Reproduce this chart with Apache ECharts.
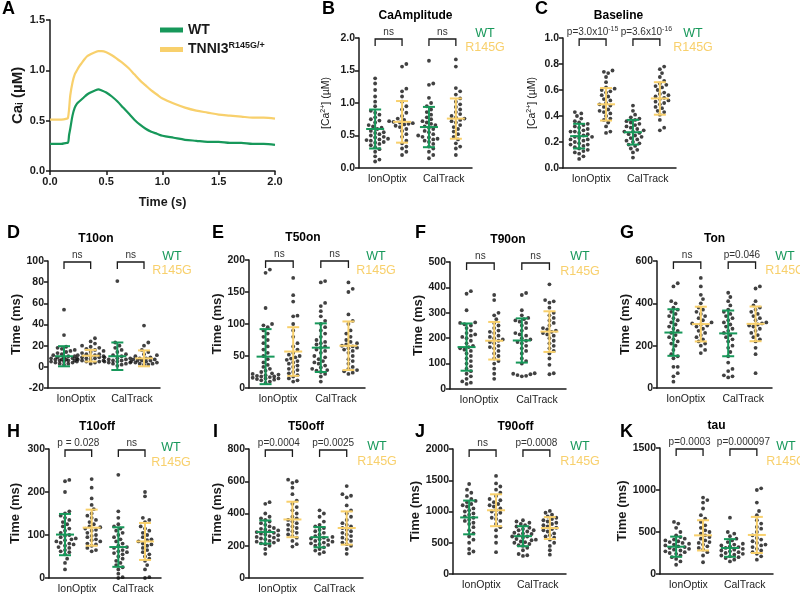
<!DOCTYPE html>
<html><head><meta charset="utf-8">
<script src="https://cdn.jsdelivr.net/npm/echarts@6/dist/echarts.min.js"></script>
<style>html,body{margin:0;padding:0;background:#fff}#c{width:800px;height:596px}</style>
</head><body><div id="c"></div>
<script>
// ================= DATA =================
// Panel A: average Ca transient
const traceTime  = [0,0.05,0.1,0.15,0.16,0.17,0.18,0.2,0.22,0.24,0.26,0.28,0.3,0.33,0.36,0.4,0.43,0.46,0.5,0.55,0.6,0.65,0.7,0.75,0.8,0.85,0.9,0.95,1.0,1.1,1.2,1.3,1.4,1.5,1.6,1.7,1.8,1.9,2.0];
const traceWT    = [0.27,0.27,0.27,0.28,0.28,0.36,0.42,0.55,0.63,0.67,0.69,0.71,0.73,0.76,0.78,0.80,0.81,0.80,0.78,0.74,0.69,0.63,0.57,0.51,0.46,0.42,0.39,0.37,0.35,0.33,0.31,0.30,0.29,0.29,0.28,0.28,0.27,0.27,0.26];
const traceR145G = [0.51,0.51,0.51,0.52,0.53,0.62,0.75,0.88,0.96,1.00,1.04,1.07,1.10,1.14,1.16,1.18,1.19,1.19,1.18,1.15,1.11,1.07,1.02,0.96,0.90,0.85,0.80,0.76,0.72,0.67,0.63,0.60,0.58,0.56,0.55,0.54,0.53,0.53,0.52];

const methods = ['IonOptix','CalTrack'];
const genotypes = ['WT','R145G'];

// B CaAmplitude (µM)
const ampWT_Ion  = [0.10,0.13,0.18,0.25,0.29,0.32,0.35,0.37,0.39,0.40,0.42,0.43,0.44,0.45,0.47,0.48,0.50,0.52,0.54,0.55,0.57,0.60,0.62,0.64,0.66,0.70,0.73,0.75,0.78,0.82,0.85,0.88,0.95,1.02,1.10,1.20,1.30,1.38];
const ampR_Ion   = [0.20,0.25,0.30,0.33,0.38,0.42,0.48,0.52,0.57,0.60,0.63,0.65,0.67,0.68,0.69,0.70,0.71,0.72,0.74,0.76,0.80,0.85,0.90,0.95,1.02,1.10,1.18,1.22,1.56,1.60];
const ampWT_Cal  = [0.15,0.20,0.25,0.30,0.33,0.37,0.40,0.42,0.44,0.45,0.47,0.48,0.50,0.52,0.55,0.57,0.60,0.62,0.64,0.66,0.68,0.70,0.72,0.75,0.78,0.82,0.86,0.90,0.95,1.00,1.08,1.28,1.30,1.65];
const ampR_Cal   = [0.20,0.30,0.33,0.38,0.44,0.48,0.52,0.56,0.60,0.63,0.66,0.70,0.72,0.74,0.76,0.78,0.80,0.83,0.86,0.90,0.94,0.98,1.02,1.07,1.13,1.18,1.23,1.56,1.67];
const ampMean = [0.60,0.71,0.63,0.76];
const ampSD   = [0.30,0.32,0.31,0.31];
const ampSig  = ['ns','ns'];

// C Baseline (µM)
const baseWT_Ion = [0.07,0.09,0.11,0.12,0.13,0.14,0.15,0.16,0.17,0.18,0.18,0.19,0.20,0.21,0.22,0.22,0.23,0.24,0.24,0.25,0.26,0.27,0.28,0.28,0.29,0.30,0.31,0.32,0.33,0.34,0.35,0.36,0.38,0.40,0.42,0.43];
const baseR_Ion  = [0.27,0.28,0.32,0.35,0.37,0.38,0.40,0.42,0.43,0.44,0.45,0.47,0.48,0.49,0.50,0.52,0.53,0.55,0.56,0.58,0.59,0.60,0.61,0.62,0.66,0.70,0.73,0.74,0.75];
const baseWT_Cal = [0.08,0.12,0.14,0.15,0.17,0.18,0.19,0.20,0.21,0.22,0.23,0.24,0.25,0.26,0.27,0.28,0.28,0.29,0.30,0.31,0.32,0.33,0.34,0.35,0.36,0.37,0.38,0.39,0.41,0.44,0.48];
const baseR_Cal  = [0.29,0.31,0.37,0.41,0.43,0.44,0.46,0.47,0.49,0.50,0.51,0.52,0.53,0.54,0.55,0.56,0.57,0.58,0.60,0.62,0.63,0.64,0.65,0.67,0.70,0.73,0.76,0.78];
const baseMean = [0.245,0.49,0.275,0.535];
const baseSD   = [0.095,0.125,0.095,0.125];
const baseSig  = ['p=3.0x10{sup|-15}','p=3.6x10{sup|-16}'];

// D T10on (ms)
const t10onWT_Ion = [2,3,3,4,4,5,5,5,6,6,6,7,7,7,8,8,8,9,9,10,10,11,12,13,14,15,16,17,18,19,30,54];
const t10onR_Ion  = [3,4,5,5,6,6,7,7,8,8,9,9,10,10,11,11,12,12,13,14,15,16,17,18,19,20,22,24,27];
const t10onWT_Cal = [1,2,3,3,4,4,5,5,6,6,7,7,8,8,9,10,11,12,14,16,18,20,23,81];
const t10onR_Cal  = [2,2,3,3,4,4,5,5,6,6,6,7,7,8,8,9,10,11,12,14,16,20,23,39];
const t10onMean = [10,10.5,10,8];
const t10onSD   = [9.5,5.5,13,7.5];
const t10onSig  = ['ns','ns'];

// E T50on (ms)
const t50onWT_Ion = [8,10,12,13,14,15,15,16,17,18,18,19,20,21,22,23,25,27,30,33,36,40,45,50,55,60,65,70,75,80,85,90,95,98,100,125,180,185];
const t50onR_Ion  = [10,12,15,18,20,23,25,28,30,33,35,38,40,42,44,46,48,50,52,55,60,65,70,80,90,100,112,113,135,145,172];
const t50onWT_Cal = [10,18,22,25,27,28,30,32,35,38,40,42,45,48,50,55,58,60,63,65,68,70,72,75,80,85,90,95,100,105,112,120,128,133,165,167];
const t50onR_Cal  = [22,24,26,28,30,33,38,42,45,50,55,58,60,62,63,65,66,68,70,72,75,80,85,90,100,105,115,150,155,165];
const t50onMean = [49,57,63,66];
const t50onSD   = [43,38,38,38];
const t50onSig  = ['ns','ns'];

// F T90on (ms)
const t90onWT_Ion = [20,25,30,40,50,60,70,80,90,100,110,120,130,140,150,155,160,165,170,180,190,200,205,210,215,220,230,240,250,255,260,262,310,375,385];
const t90onR_Ion  = [40,60,80,100,110,120,130,140,150,160,165,170,180,185,190,195,200,205,210,220,225,230,240,250,260,275,290,300,350,370];
const t90onWT_Cal = [50,52,55,58,60,62,100,110,120,140,150,160,170,180,185,190,195,200,210,215,220,230,240,250,260,265,270,275,280,290,310,370,378];
const t90onR_Cal  = [58,62,95,120,140,150,160,170,180,190,200,210,215,220,225,230,235,240,250,260,270,280,290,300,320,340,345,350,412];
const t90onMean = [165,190,191,226];
const t90onSD   = [93,74,87,80];
const t90onSig  = ['ns','ns'];

// G Ton (ms)
const tonWT_Ion = [30,55,70,100,100,140,150,160,180,200,210,220,230,240,250,260,270,280,290,300,310,320,330,340,350,360,370,380,400,410,480,495];
const tonR_Ion  = [165,180,200,210,220,230,240,250,260,270,280,290,295,300,305,310,320,330,340,350,360,370,380,400,420,440,480,520];
const tonWT_Cal = [50,55,60,80,90,120,150,170,190,200,220,230,240,250,260,270,280,290,300,310,320,330,340,350,360,370,390,410,430,450];
const tonR_Cal  = [70,160,190,220,230,240,250,260,270,280,290,295,300,305,310,320,330,340,350,360,370,380,390,410,470,480];
const tonMean = [262,302,258,303];
const tonSD   = [110,82,108,82];
const tonSig  = ['ns','p=0.046'];

// H T10off (ms)
const t10offWT_Ion = [20,35,45,55,60,62,65,70,72,75,78,80,82,85,88,90,92,95,98,100,105,110,115,120,125,130,135,140,145,150,155,200,225,228];
const t10offR_Ion  = [62,65,70,75,78,80,85,88,90,95,98,100,105,110,112,115,118,120,125,130,135,140,145,150,160,170,185,210,230];
const t10offWT_Cal = [0,2,10,20,25,30,35,40,45,50,55,58,60,62,65,70,72,75,80,85,90,95,100,105,110,115,120,125,140,155,240];
const t10offR_Cal  = [0,2,20,30,40,45,50,55,60,65,70,75,78,80,85,88,90,95,100,105,110,115,120,130,135,140,190,200];
const t10offMean = [101,117,72,85];
const t10offSD   = [48,42,46,43];
const t10offSig  = ['p = 0.028','ns'];

// I T50off (ms)
const t50offWT_Ion = [150,180,200,210,215,220,225,230,235,240,245,250,255,260,265,270,275,280,285,290,295,300,305,310,320,330,340,350,360,370,380,400,460,470];
const t50offR_Ion  = [195,210,230,250,260,270,280,290,300,310,320,330,340,350,360,370,380,400,420,440,460,480,520,560,590,600,610];
const t50offWT_Cal = [150,160,170,180,190,200,205,210,215,220,225,230,235,240,245,250,255,260,270,280,290,300,310,320,330,350,380,400,420];
const t50offR_Cal  = [150,180,200,210,220,230,240,250,260,270,280,290,300,310,320,330,340,360,380,400,420,450,500,510,520,570];
const t50offMean = [285,363,253,310];
const t50offSD   = [72,110,63,103];
const t50offSig  = ['p=0.0004','p=0.0025'];

// J T90off (ms)
const t90offWT_Ion = [330,360,400,500,550,600,650,700,750,800,820,850,870,900,920,950,970,1000,1020,1050,1080,1100,1120,1150,1170,1200,1250,1300,1350,1440];
const t90offR_Ion  = [350,500,600,700,750,800,850,880,900,950,980,1000,1020,1050,1080,1100,1120,1150,1180,1200,1250,1300,1350,1400,1450,1570];
const t90offWT_Cal = [290,300,320,380,420,450,460,480,500,510,520,540,550,560,580,600,600,620,640,650,660,680,700,700,720,740,760,780,800,820,840,860];
const t90offR_Cal  = [310,380,450,500,550,580,600,620,650,680,700,720,740,760,780,800,820,840,860,880,900,920,950,980,1010];
const t90offMean = [905,1020,605,735];
const t90offSD   = [270,255,160,175];
const t90offSig  = ['ns','p=0.0008'];

// K tau (ms)
const tauWT_Ion = [110,150,180,200,220,240,250,260,270,280,290,300,310,320,330,340,350,360,370,380,390,400,410,420,440,460,500,550,600,620];
const tauR_Ion  = [140,220,260,290,310,330,350,370,380,400,420,440,460,480,500,520,550,580,620,660,700,780,850,880,910];
const tauWT_Cal = [150,170,190,200,210,220,230,240,250,260,270,280,290,300,310,320,330,340,350,360,380,400,420,450,480,500,670];
const tauR_Cal  = [170,210,240,260,280,300,320,340,350,370,390,410,430,460,500,540,560,600,640,700,750,850,1000,1020];
const tauMean = [325,460,310,465];
const tauSD   = [120,180,105,215];
const tauSig  = ['p=0.0003','p=0.000097'];

// ================= LAYOUT / STYLE =================
const GREEN = '#17985a', YELLOW = '#f8d06c', INK = '#1a1a1a';
const FONT = '"Liberation Sans", Arial, Helvetica, sans-serif';
const XMIN = -0.6, XMAX = 3.6;

const panels = [
  {letter:'B', L:[322,9],  title:'CaAmplitude', tx:0, groups:[ampWT_Ion,ampR_Ion,ampWT_Cal,ampR_Cal], mean:ampMean, sd:ampSD, sig:ampSig,
   y:[0,2,0.5], dec:1, yName:'[Ca{sup|2+}] (µM)', ca:true, nameGap:26, grid:{left:359,top:38,width:113,height:130}, leg:[485,34,48]},
  {letter:'C', L:[535,9],  title:'Baseline', tx:-1, groups:[baseWT_Ion,baseR_Ion,baseWT_Cal,baseR_Cal], mean:baseMean, sd:baseSD, sig:baseSig,
   y:[0,1,0.2], dec:1, yName:'[Ca{sup|2+}] (µM)', ca:true, nameGap:24, grid:{left:563,top:38,width:113,height:130}, leg:[693,34,48]},
  {letter:'D', L:[7,233],  title:'T10on', tx:-8, groups:[t10onWT_Ion,t10onR_Ion,t10onWT_Cal,t10onR_Cal], mean:t10onMean, sd:t10onSD, sig:t10onSig,
   y:[-20,100,20], dec:0, yName:'Time (ms)', nameGap:25, grid:{left:48,top:261,width:112,height:127}, leg:[172,257,271]},
  {letter:'E', L:[212,233], title:'T50on', tx:-4, groups:[t50onWT_Ion,t50onR_Ion,t50onWT_Cal,t50onR_Cal], mean:t50onMean, sd:t50onSD, sig:t50onSig,
   y:[0,200,50], dec:0, yName:'Time (ms)', nameGap:25, grid:{left:249,top:260,width:116,height:128}, leg:[376,257,271]},
  {letter:'F', L:[415,233], title:'T90on', tx:0, groups:[t90onWT_Ion,t90onR_Ion,t90onWT_Cal,t90onR_Cal], mean:t90onMean, sd:t90onSD, sig:t90onSig,
   y:[0,500,100], dec:0, yName:'Time (ms)', nameGap:22, grid:{left:450,top:262,width:116,height:127}, leg:[580,257,272]},
  {letter:'G', L:[620,233], title:'Ton', tx:0, groups:[tonWT_Ion,tonR_Ion,tonWT_Cal,tonR_Cal], mean:tonMean, sd:tonSD, sig:tonSig,
   y:[0,600,200], dec:0, yName:'Time (ms)', nameGap:24, grid:{left:657,top:261,width:115,height:127}, leg:[785,257,271]},
  {letter:'H', L:[7,432],  title:'T10off', tx:-8, groups:[t10offWT_Ion,t10offR_Ion,t10offWT_Cal,t10offR_Cal], mean:t10offMean, sd:t10offSD, sig:t10offSig,
   y:[0,300,100], dec:0, yName:'Time (ms)', nameGap:27, grid:{left:49,top:449,width:112,height:129}, leg:[171,448,463]},
  {letter:'I', L:[213,432], title:'T50off', tx:0, groups:[t50offWT_Ion,t50offR_Ion,t50offWT_Cal,t50offR_Cal], mean:t50offMean, sd:t50offSD, sig:t50offSig,
   y:[0,800,200], dec:0, yName:'Time (ms)', nameGap:25, grid:{left:249,top:449,width:114,height:129}, leg:[377,447,462]},
  {letter:'J', L:[415,432], title:'T90off', tx:6, groups:[t90offWT_Ion,t90offR_Ion,t90offWT_Cal,t90offR_Cal], mean:t90offMean, sd:t90offSD, sig:t90offSig,
   y:[0,2000,500], dec:0, yName:'Time (ms)', nameGap:25, grid:{left:453,top:449,width:113,height:125}, leg:[580,447,462]},
  {letter:'K', L:[620,432], title:'tau', tx:0, groups:[tauWT_Ion,tauR_Ion,tauWT_Cal,tauR_Cal], mean:tauMean, sd:tauSD, sig:tauSig,
   y:[0,1500,500], dec:0, yName:'Time (ms)', nameGap:29, grid:{left:660,top:448,width:113,height:126}, leg:[786,447,462]}
];

// deterministic beeswarm layout (pixel-space packing around a column centre, max half-width capped)
function swarm(vals, centre, yPerPx, xPerPx) {
  const d = 4.3, maxOff = 13;
  const sorted = vals.slice().sort((a, b) => a - b);
  const placed = [], out = [];
  const cands = [0];
  for (let k = 1; k * d * 0.5 <= maxOff; k++) { cands.push(k * d * 0.5, -k * d * 0.5); }
  for (const v of sorted) {
    const py = v / yPerPx;
    let best = null, bestDist = -1;
    for (const off of cands) {
      let minD = Infinity;
      for (const p of placed) {
        const dx = p[0] - off, dy = p[1] - py;
        minD = Math.min(minD, Math.sqrt(dx * dx + dy * dy));
      }
      if (minD >= d) { best = off; break; }
      if (minD > bestDist) { bestDist = minD; best = off; }
    }
    placed.push([best, py]);
    out.push([centre + best * xPerPx, v]);
  }
  return out;
}

const axLine = {show:true, onZero:false, lineStyle:{color:INK, width:1.5}};
const richSup = {
  sup:{fontSize:8, fontFamily:FONT, fontWeight:'bold', padding:[0,0,7,0], color:INK},
  sub:{fontSize:10, fontFamily:FONT, fontWeight:'bold', padding:[0,0,-6,0], color:INK}
};

const option = {
  animation:false,
  backgroundColor:'#fff',
  textStyle:{fontFamily:FONT},
  grid:[], xAxis:[], yAxis:[], series:[], graphic:[],
  legend:{
    data:['WT','TNNI3'], orient:'vertical', left:155, top:18, itemWidth:23, itemHeight:5, itemGap:4,
    icon:'rect', selectedMode:false,
    textStyle:{fontSize:14, fontWeight:'bold', color:INK, fontFamily:FONT,
      rich:{sup:{fontSize:9, fontWeight:'bold', fontFamily:FONT, color:INK, padding:[0,0,8,0]}}},
    formatter: n => n === 'WT' ? 'WT' : 'TNNI3{sup|R145G/+}'
  }
};

// ---- Panel A ----
option.grid.push({left:50, top:20, width:225, height:151});
option.xAxis.push({type:'value', gridIndex:0, min:0, max:2, interval:0.5,
  axisLine:axLine, axisTick:{show:true, length:4, lineStyle:{color:INK,width:1.5}},
  axisLabel:{fontSize:11, fontWeight:'bold', color:INK, margin:5, formatter:v=>v.toFixed(1)},
  splitLine:{show:false}, name:'Time (s)', nameLocation:'middle', nameGap:25,
  nameTextStyle:{fontSize:12.5, fontWeight:'bold', color:INK}});
option.yAxis.push({type:'value', gridIndex:0, min:0, max:1.5, interval:0.5,
  axisLine:axLine, axisTick:{show:true, length:4, lineStyle:{color:INK,width:1.5}},
  axisLabel:{fontSize:11, fontWeight:'bold', color:INK, margin:5, formatter:v=>v.toFixed(1)},
  splitLine:{show:false}, name:'Ca{sub|i} (µM)', nameLocation:'middle', nameGap:25,
  nameTextStyle:{fontSize:15, fontWeight:'bold', color:INK, rich:richSup}});
option.series.push({type:'line', name:'WT', xAxisIndex:0, yAxisIndex:0, showSymbol:false, smooth:0.3,
  data:traceTime.map((t,i)=>[t,traceWT[i]]), lineStyle:{color:GREEN, width:2.2}, itemStyle:{color:GREEN}});
option.series.push({type:'line', name:'TNNI3', xAxisIndex:0, yAxisIndex:0, showSymbol:false, smooth:0.3,
  data:traceTime.map((t,i)=>[t,traceR145G[i]]), lineStyle:{color:YELLOW, width:2.2}, itemStyle:{color:YELLOW}});
option.graphic.push({type:'text', x:2, y:0, style:{text:'A', fontSize:18, fontWeight:'bold', fontFamily:FONT, fill:'#000'}});

// ---- Panels B..K ----
panels.forEach((p, k) => {
  const gi = k + 1, xv = 1 + 2*k, yi = k + 1;
  const [ymin, ymax, yint] = p.y;
  option.grid.push(p.grid);
  option.xAxis.push({type:'value', gridIndex:gi, min:XMIN, max:XMAX, axisLine:axLine,
    axisTick:{show:false}, axisLabel:{show:false}, splitLine:{show:false}});
  option.xAxis.push({type:'category', gridIndex:gi, data:methods, position:'bottom',
    axisLine:{show:false, onZero:false}, axisTick:{show:false}, splitLine:{show:false},
    axisLabel:{fontSize:10.5, color:'#222', margin:6}});
  option.yAxis.push({type:'value', gridIndex:gi, min:ymin, max:ymax, interval:yint,
    axisLine:axLine, axisTick:{show:true, length:4, lineStyle:{color:INK,width:1.5}},
    axisLabel:{fontSize:10.5, fontWeight:'bold', color:INK, margin:4, formatter:v=>v.toFixed(p.dec)},
    splitLine:{show:false}, name:p.yName, nameLocation:'middle', nameGap:p.nameGap,
    nameTextStyle: p.ca ? {fontSize:10.5, color:INK, rich:{sup:{fontSize:7, color:INK, padding:[0,0,6,0]}}}
                        : {fontSize:13, fontWeight:'bold', color:INK}});
  const yPerPx = (ymax - ymin) / p.grid.height;
  const xPerPx = (XMAX - XMIN) / p.grid.width;
  p.groups.forEach((vals, g) => {
    option.series.push({type:'scatter', xAxisIndex:xv, yAxisIndex:yi, silent:true, z:2,
      symbol:'circle', symbolSize:3.8, itemStyle:{color:'#111'},
      data:swarm(vals, g, yPerPx, xPerPx)});
  });
  // mean ± SD
  option.series.push({type:'custom', xAxisIndex:xv, yAxisIndex:yi, silent:true, z:4,
    data:p.mean.map((m,g)=>[g, m, p.sd[g]]),
    renderItem:(params, api) => {
      const x = api.value(0), m = api.value(1), s = api.value(2);
      const c = api.coord([x, m]), t = api.coord([x, m + s]), b = api.coord([x, m - s]);
      const col = x % 2 === 0 ? GREEN : YELLOW;
      const st = {stroke:col, lineWidth:2, fill:null};
      return {type:'group', children:[
        {type:'line', shape:{x1:c[0], y1:t[1], x2:c[0], y2:b[1]}, style:st},
        {type:'line', shape:{x1:c[0]-6, y1:t[1], x2:c[0]+6, y2:t[1]}, style:st},
        {type:'line', shape:{x1:c[0]-6, y1:b[1], x2:c[0]+6, y2:b[1]}, style:st},
        {type:'line', shape:{x1:c[0]-9, y1:c[1], x2:c[0]+9, y2:c[1]}, style:st}
      ]};
    }});
  // significance brackets
  option.series.push({type:'custom', xAxisIndex:xv, yAxisIndex:yi, silent:true, z:4, clip:false,
    data:[[0,1,0],[2,3,1]],
    renderItem:(params, api) => {
      const a = api.coord([api.value(0), ymax]), b = api.coord([api.value(1), ymax]);
      const y0 = a[1] + 1;
      return {type:'group', children:[
        {type:'polyline', shape:{points:[[a[0],y0+7],[a[0],y0],[b[0],y0],[b[0],y0+7]]},
         style:{stroke:INK, lineWidth:1.3, fill:null}},
        {type:'text', style:{text:p.sig[api.value(2)], x:(a[0]+b[0])/2, y:y0-7, align:'center', verticalAlign:'middle',
          textAlign:'center', textVerticalAlign:'middle',
          fontSize:10, fontFamily:FONT, fill:'#333', rich:{sup:{fontSize:7, fontFamily:FONT, fill:'#333', padding:[0,0,5,0]}}}}
      ]};
    }});
  // letter, title, group key
  const cx = p.grid.left + p.grid.width/2 + p.tx;
  option.graphic.push({type:'text', x:p.L[0], y:p.L[1]-9, style:{text:p.letter, fontSize:18, fontWeight:'bold', fontFamily:FONT, fill:'#000'}});
  option.graphic.push({type:'text', x:cx, y:p.grid.top - 22, style:{text:p.title, fontSize:12, fontWeight:'bold', fontFamily:FONT, fill:'#000', align:'center', textAlign:'center', verticalAlign:'middle', textVerticalAlign:'middle'}});
  option.graphic.push({type:'text', x:p.leg[0], y:p.leg[1], style:{text:genotypes[0], fontSize:12.5, fontFamily:FONT, fill:GREEN, align:'center', textAlign:'center', verticalAlign:'middle', textVerticalAlign:'middle'}});
  option.graphic.push({type:'text', x:p.leg[0], y:p.leg[2], style:{text:genotypes[1], fontSize:12.5, fontFamily:FONT, fill:YELLOW, align:'center', textAlign:'center', verticalAlign:'middle', textVerticalAlign:'middle'}});
});

const chart = echarts.init(document.getElementById('c'), null, {renderer:'canvas'});
chart.setOption(option);
</script></body></html>
